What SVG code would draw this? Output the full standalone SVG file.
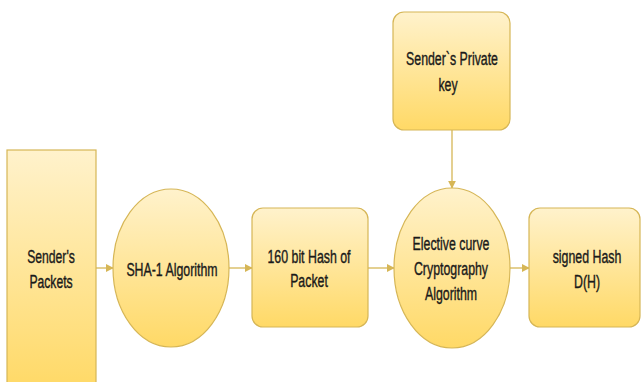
<svg xmlns="http://www.w3.org/2000/svg" width="641" height="382" viewBox="0 0 641 382">
  <defs>
    <linearGradient id="fillGrad" x1="0" y1="0" x2="0" y2="1">
      <stop offset="0" stop-color="#fff2cc"/>
      <stop offset="1" stop-color="#ffd966"/>
    </linearGradient>
    <marker id="arrow" viewBox="0 0 10 10" refX="9" refY="5" markerWidth="8" markerHeight="8" markerUnits="userSpaceOnUse" orient="auto">
      <path d="M0,0 L10,5 L0,10 Z" fill="#d6b656"/>
    </marker>
  </defs>
  <style>
    .shape { fill: url(#fillGrad); stroke: #d6b656; stroke-width: 1.2; }
    .label { font-family: "Liberation Sans", Arial, sans-serif; font-size: 19px; fill: #1a1a1a; stroke: #1a1a1a; stroke-width: 0.4; text-anchor: middle; }
    .edge { fill: none; stroke: #d6b656; stroke-width: 1.3; marker-end: url(#arrow); }
  </style>
  <rect width="641" height="382" fill="#ffffff"/>

  <g id="connectors">
    <line class="edge" x1="96" y1="268" x2="113" y2="268"/>
    <line class="edge" x1="229" y1="268" x2="252" y2="268"/>
    <line class="edge" x1="368" y1="268" x2="394" y2="268"/>
    <line class="edge" x1="510" y1="268" x2="529" y2="268"/>
    <line class="edge" x1="452" y1="130" x2="452" y2="188"/>
  </g>

  <g id="senders-packets">
    <rect class="shape" x="7" y="150" width="89" height="240"/>
    <text class="label" transform="translate(51,263) scale(0.64,1)">Sender's</text>
    <text class="label" transform="translate(51,288) scale(0.64,1)">Packets</text>
  </g>

  <g id="sha1-algorithm">
    <ellipse class="shape" cx="171" cy="268" rx="58" ry="79"/>
    <text class="label" transform="translate(172,276) scale(0.65,1)">SHA-1 Algorithm</text>
  </g>

  <g id="hash-160">
    <rect class="shape" x="252" y="208" width="116" height="119" rx="11" ry="11"/>
    <text class="label" transform="translate(309,263) scale(0.65,1)">160 bit Hash of</text>
    <text class="label" transform="translate(309,287) scale(0.65,1)">Packet</text>
  </g>

  <g id="private-key">
    <rect class="shape" x="393" y="12" width="117" height="118" rx="11" ry="11"/>
    <text class="label" transform="translate(452,65) scale(0.65,1)">Sender`s Private</text>
    <text class="label" transform="translate(448,91) scale(0.65,1)">key</text>
  </g>

  <g id="ecc-algorithm">
    <ellipse class="shape" cx="452" cy="268" rx="58" ry="80"/>
    <text class="label" transform="translate(451,250) scale(0.65,1)">Elective curve</text>
    <text class="label" transform="translate(451,275) scale(0.65,1)">Cryptography</text>
    <text class="label" transform="translate(451,300) scale(0.65,1)">Algorithm</text>
  </g>

  <g id="signed-hash">
    <rect class="shape" x="529" y="208" width="111" height="119" rx="11" ry="11"/>
    <text class="label" transform="translate(587,263) scale(0.65,1)">signed Hash</text>
    <text class="label" transform="translate(587,288) scale(0.65,1)">D(H)</text>
  </g>
</svg>
